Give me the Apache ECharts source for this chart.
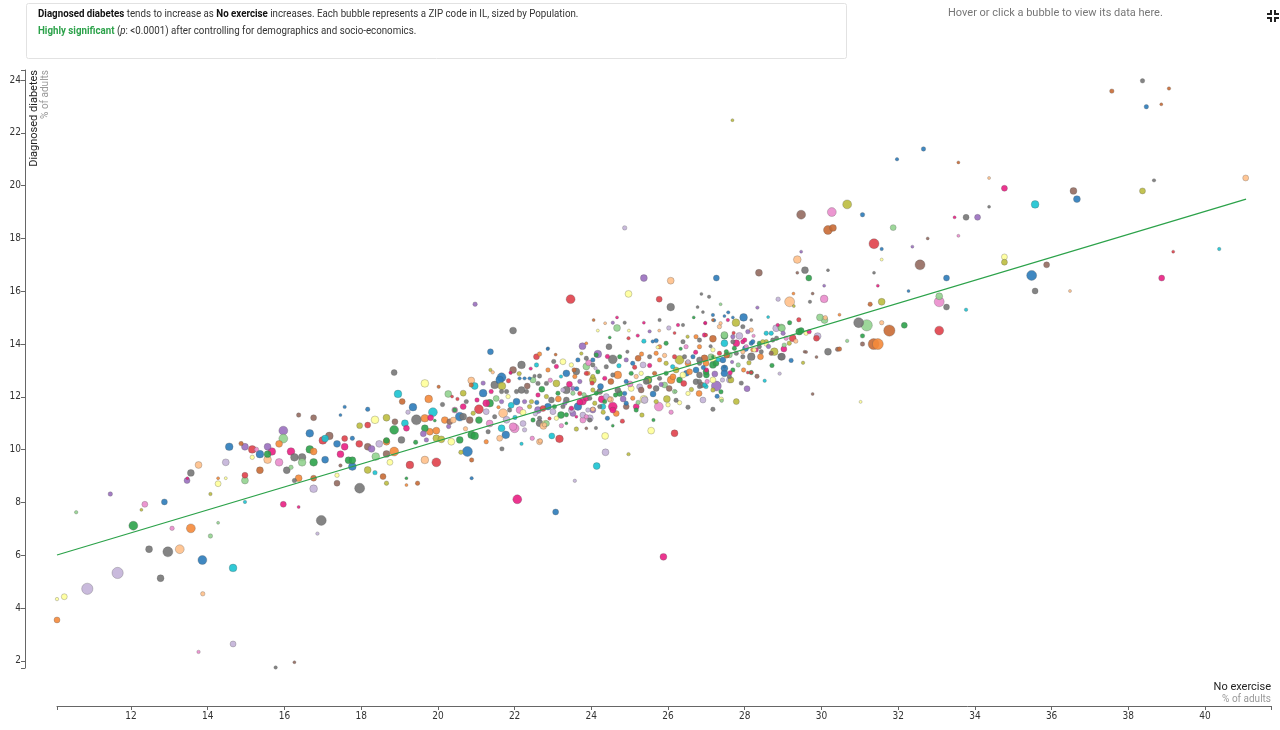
<!DOCTYPE html>
<html>
<head>
<meta charset="utf-8">
<script src="https://cdn.jsdelivr.net/npm/echarts@6/dist/echarts.min.js"></script>
<style>
  html, body { margin: 0; padding: 0; background: #fff; }
  #chart { width: 1280px; height: 730px; }
</style>
</head>
<body>
<div id="chart"></div>
<script>
// ── Data ─────────────────────────────────────────────────────
// Each ZIP: [no exercise %, diagnosed diabetes %, population, colour group]

const xLabel = 'No exercise';
const yLabel = 'Diagnosed diabetes';
const unitLabel = '% of adults';

const trendX = [10.07, 41.07];
const trendY = [6.01, 19.49];

const zipsLow = [
  [10.07,3.55,9000,1],[10.07,4.34,3000,14],[10.26,4.43,9000,14],[10.86,4.73,32000,13],
  [10.57,7.63,3000,11],[11.46,8.32,5000,4],[11.65,5.33,32000,13],[12.06,7.12,20000,2],
  [12.27,7.72,2000,8],[12.36,7.93,9000,12],[12.47,6.23,12000,7],[12.77,5.13,12000,7],
  [12.87,8.02,9000,0],[12.96,6.13,25000,7],[13.07,7.02,5000,12],[13.27,6.23,20000,10],
  [13.56,7.02,20000,1],[13.46,8.83,9000,4],[13.47,8.92,2000,6],[13.56,9.12,12000,7],
  [13.76,9.42,12000,10],[13.87,4.54,5000,10],[13.76,2.34,3000,12],[13.86,5.82,20000,0],
  [14.07,6.73,5000,11],[14.07,8.32,3000,8],[14.27,7.23,2000,11],[14.27,8.71,9000,14],
  [14.27,8.92,2000,1],[14.47,8.92,2000,14],[14.47,9.52,12000,13],[14.56,10.11,15000,0],
  [14.66,5.52,15000,9],[14.66,2.64,9000,13],[14.87,10.23,5000,15],[14.97,10.11,12000,4],
  [14.97,9.03,9000,3],[14.97,8.83,12000,11],[14.97,8.02,3000,9],[15.16,10.01,15000,3],
  [15.16,9.71,5000,14],[15.27,10.01,5000,12],[15.36,9.83,15000,0],[15.36,9.22,12000,15],
  [15.56,10.11,12000,4],[15.56,9.62,15000,10],[15.67,9.93,15000,6],[15.56,9.83,12000,2],
  [15.77,1.75,3000,7],[15.86,10.22,12000,1],[15.86,9.52,15000,12],[15.97,10.72,20000,4],
  [15.97,10.42,20000,11],[15.97,7.93,9000,6],[16.06,9.22,12000,7],[16.17,9.93,15000,6],
  [16.17,9.33,5000,11],[16.26,9.71,15000,7],[16.26,8.83,5000,7],[16.26,1.95,2000,5],
  [16.37,11.31,5000,5],[16.37,7.83,2000,6],[16.37,8.92,12000,1],[16.46,9.71,15000,7],
  [16.46,9.52,15000,11],[16.66,10.62,15000,0],[16.66,10.01,15000,2],[16.76,11.21,9000,5],
  [16.76,9.93,12000,1],[16.76,9.52,15000,2],[16.76,8.92,9000,15],[16.76,8.52,15000,13],
  [16.96,7.32,25000,7],[16.86,6.82,3000,13],[17.06,9.62,12000,0],[17.06,10.42,12000,9],
  [17.0,10.35,15000,3],[17.17,10.52,15000,5],[17.37,10.22,12000,0],[17.37,9.03,5000,14],
  [17.37,8.73,9000,5],[17.57,10.42,9000,3],[17.57,10.11,12000,6],[17.46,9.83,12000,6],
  [17.57,11.62,3000,0],[17.46,11.31,2000,0],[17.46,9.4,3000,5],[17.67,9.6,12000,2]
];

const zipsMidLeft = [
  [20.97,15.51,5000,4],[21.96,14.51,12000,7],[21.37,13.71,9000,0],[22.57,13.52,9000,3],
  [18.86,12.92,9000,7],[19.66,12.51,15000,14],[18.96,12.11,15000,9],[19.76,11.92,15000,1],
  [20.27,12.11,12000,11],[19.07,11.82,9000,15],[18.17,11.53,5000,0],[18.36,11.13,15000,14],
  [18.66,11.21,12000,8],[17.96,10.91,9000,8],[18.17,10.93,9000,3],[17.77,10.43,5000,0],
  [17.95,10.22,12000,3],[18.17,10.11,12000,5],[18.27,10.03,12000,4],[18.47,10.22,12000,13],
  [18.66,10.30,12000,1],[18.66,10.35,9000,2],[18.86,10.75,20000,2],[18.88,11.06,9000,5],
  [19.14,11.0,12000,9],[19.18,10.81,9000,6],[19.44,11.13,25000,7],[19.66,11.19,15000,1],
  [19.87,11.42,20000,9],[19.35,11.61,15000,0],[19.05,10.37,12000,7],[18.86,9.93,20000,1],
  [18.66,9.84,12000,5],[18.38,9.74,15000,11],[18.75,9.52,9000,14],[19.27,9.42,15000,3],
  [19.96,9.52,20000,3],[19.66,9.61,15000,10],[18.17,9.23,12000,8],[18.36,9.13,5000,9],
  [18.57,8.98,9000,15],[18.66,8.73,5000,8],[17.96,8.54,25000,7],[17.77,9.36,15000,0],
  [17.77,9.6,12000,2],[19.18,8.92,2000,2],[19.18,8.66,2000,1],[19.47,8.73,5000,15],
  [20.35,10.30,12000,14],[20.77,9.93,25000,0],[20.88,9.61,5000,15],[20.88,8.92,3000,0],
  [22.07,8.12,20000,6],[20.6,9.9,5000,8],[20.66,11.25,12000,7],[20.44,11.50,9000,12],
  [20.31,11.06,9000,5],[20.66,11.63,9000,6],[20.87,12.45,5000,15],[20.66,12.14,9000,8],
  [21.18,12.14,15000,0],[21.35,11.76,15000,2],[21.48,12.45,15000,7],[21.61,12.64,15000,0],
  [21.67,12.41,15000,8],[22.18,13.21,15000,7],[21.96,13.02,12000,5],[21.37,13.02,3000,8],
  [21.9,12.9,2000,6],[22.48,12.64,9000,11],[21.79,11.13,12000,13],[21.96,10.87,15000,12],
  [21.77,10.56,15000,0],[21.67,10.03,5000,7],[22.18,10.22,3000,9],[22.46,10.43,5000,12],
  [22.67,10.33,5000,10],[22.8,11.0,9000,14],[20.88,10.56,15000,2],[19.96,10.43,12000,8],
  [19.79,10.68,12000,1],[19.62,10.6,9000,4],
  [22.65,13.62,5000,1],[22.87,13.83,3000,0],[23.07,13.6,2000,15],[22.57,13.21,5000,9],
  [23.48,13.21,5000,14],[23.87,13.15,12000,11],[24.04,13.4,5000,0],[24.13,13.59,5000,2],
  [20.87,12.62,12000,10],[20.96,12.41,12000,9],[21.66,12.74,20000,0],[21.89,12.92,2000,6],
  [22.13,12.70,3000,0],[22.26,12.70,3000,0],[22.39,12.70,3000,0],[22.52,12.79,3000,7],
  [22.65,12.79,5000,7],[22.87,13.02,5000,1],[23.09,13.15,5000,6],[23.35,12.89,12000,0],
  [23.61,12.96,12000,7],[23.91,12.89,5000,1],[24.04,12.64,12000,8],[23.09,12.51,12000,8],
  [22.83,12.51,5000,7],[22.61,12.51,5000,7],[20.37,12.01,2000,3],[20.74,11.82,5000,7],
  [21.26,11.76,12000,6],[21.39,12.2,5000,6],[21.66,12.2,5000,7],[21.79,12.2,5000,7],
  [22.05,12.2,5000,7],[22.18,12.26,12000,7],[22.31,12.2,5000,7],[21.66,11.82,5000,4],
  [21.83,12.01,5000,14],[22.05,11.82,12000,0],[22.26,11.82,5000,4],[22.44,11.82,5000,8],
  [22.61,12.07,5000,6],[22.83,12.01,5000,8],[22.96,11.88,9000,7],[23.13,12.14,5000,2],
  [23.35,12.26,15000,7],[23.52,12.14,5000,11],[23.78,11.82,12000,6],[23.96,11.95,5000,7],
  [24.13,12.14,5000,2],[24.09,11.76,5000,8],[23.48,11.57,5000,6],[23.26,11.63,5000,7],
  [23.04,11.63,5000,2],[22.87,11.63,12000,0],[22.61,11.5,12000,4],[22.39,11.63,5000,8],
  [22.13,11.5,12000,12],[21.87,11.5,5000,7],[21.7,11.38,20000,10],[21.48,11.25,5000,7],
  [21.26,11.44,9000,13],[21.07,11.53,20000,3],[20.92,11.38,5000,8],[20.44,11.5,5000,2],
  [19.92,11.1,2000,2],[20.18,11.12,12000,1],[20.4,11.12,9000,10],[20.57,11.25,20000,0],
  [20.83,11.12,12000,5],[21.07,11.12,12000,2],[21.35,10.99,12000,12],[21.66,10.81,12000,9],
  [22.0,10.81,20000,12],[22.22,10.99,9000,13],[22.48,11.12,5000,2],[22.65,11.19,5000,7],
  [22.83,10.99,9000,11],[23.09,11.19,5000,14],[23.35,11.32,5000,2],[23.61,11.25,2000,6],
  [23.78,11.12,9000,12],[23.96,11.19,12000,13],[23.87,10.81,2000,5],[19.66,10.81,12000,2],
  [19.96,10.72,12000,1],[19.7,10.37,5000,4],[20.09,10.39,12000,8],[20.57,10.37,12000,2],
  [20.96,10.52,15000,2],[21.26,10.3,5000,1],[21.61,10.43,9000,10],[22.26,10.75,5000,13],
  [22.65,10.3,9000,10],[22.78,10.94,5000,10]
];

const zipsMid = [
  [23.46,15.70,20000,3],[25.37,16.50,12000,4],[26.07,16.40,12000,10],[24.97,15.90,12000,14],
  [25.77,15.70,9000,3],[26.07,15.40,15000,7],[27.26,16.50,9000,0],[28.37,16.70,12000,5],
  [26.87,15.90,2000,7],[27.07,15.79,3000,7],[26.77,15.40,2000,7],[27.37,15.51,2000,11],
  [28.87,15.70,5000,13],[27.57,15.20,3000,0],[27.17,15.10,3000,0],[27.97,15.01,15000,0],
  [27.77,14.81,15000,8],[24.67,14.61,12000,11],[24.06,14.91,2000,15],[24.87,14.81,3000,7],
  [25.37,14.81,2000,6],[24.17,14.51,2000,14],[24.98,14.51,2000,14],[25.77,14.51,2000,10],
  [26.17,14.42,2000,3],[26.97,14.81,2000,6],[27.2,14.9,3000,0],[23.77,13.92,12000,4],
  [24.17,13.62,15000,4],[24.56,13.42,20000,7],[22.86,13.81,2000,0],[23.87,14.03,2000,1],
  [25.37,14.11,5000,9],[25.6,14.1,3000,0],[27.47,14.31,12000,2],[27.17,14.20,12000,15],
  [28.77,13.71,15000,8],[28.17,13.52,15000,7],[27.17,13.52,2000,2],[27.47,13.08,12000,0],
  [27.47,12.89,12000,0],[27.26,12.41,25000,4],[28.06,12.31,9000,4],[28.17,12.92,3000,3],
  [27.67,13.32,3000,4],[27.6,12.64,9000,13],[29.77,12.11,2000,5],[27.78,11.82,9000,8],
  [27.4,11.85,3000,11],[27.17,11.53,5000,7],[25.76,11.63,20000,12],[25.97,11.92,12000,8],
  [26.0,11.7,5000,14],[25.37,11.91,15000,14],[26.2,12.2,2000,11],[25.56,10.72,12000,14],
  [26.17,10.62,12000,3],[24.36,10.52,12000,14],[23.17,10.41,15000,3],[22.97,10.52,9000,9],
  [24.37,9.90,12000,13],[24.97,9.83,3000,8],[24.56,10.91,2000,2],[24.56,11.63,20000,6],
  [24.27,11.91,12000,6],[24.5,11.9,9000,10],[23.65,11.63,15000,0],[23.7,11.8,9000,6],
  [23.21,11.31,12000,2],[23.87,11.25,5000,12],[22.65,11.0,12000,7],[22.75,10.9,12000,10],
  [22.74,11.56,9000,3],[23.0,11.44,9000,13],[23.35,11.88,9000,7],[23.52,11.37,9000,4],
  [23.78,11.31,9000,13],[24.04,11.5,9000,4],[24.3,11.63,9000,9],[24.65,11.37,9000,1],
  [24.91,11.63,9000,5],[25.17,11.63,9000,6],[24.74,12.13,9000,2],[25.04,12.32,9000,14],
  [25.26,12.38,9000,13],[25.48,12.64,9000,8],[25.69,12.32,9000,7],[25.91,12.45,9000,11],
  [26.13,12.76,9000,1],[26.3,12.64,9000,2],[26.48,12.89,9000,0],[26.73,12.57,9000,7],
  [26.87,12.45,9000,5],[27.0,12.83,9000,2],[23.96,11.12,5000,7],[23.35,11.0,2000,2],
  [27.68,22.48,2000,8],[24.87,18.40,5000,13],[25.88,5.94,12000,6],[23.07,7.64,9000,0],
  [23.57,8.82,3000,13],[24.14,9.38,12000,9],[31.02,11.81,2000,14]
];

const zipsDense = [
  [24.67,15.01,2000,6],[24.36,14.79,2000,10],[24.56,14.81,3000,4],[25.78,14.91,3000,7],
  [26.26,14.72,3000,6],[26.39,14.72,3000,7],[26.67,15.01,2000,2],[26.97,14.79,3000,6],
  [27.37,14.79,3000,10],[27.56,14.91,3000,6],[28.17,14.53,5000,10],[28.56,14.41,5000,9],
  [28.86,14.72,3000,6],[24.48,14.25,2000,2],[24.46,13.90,9000,7],[24.97,14.22,3000,3],
  [25.69,14.13,5000,0],[25.78,13.90,5000,1],[25.95,14.03,5000,2],[26.39,14.09,5000,7],
  [26.47,13.90,5000,12],[26.73,14.28,5000,1],[26.82,13.90,5000,1],[26.99,14.34,3000,3],
  [27.69,14.28,5000,4],[27.95,14.09,5000,6],[28.17,14.03,5000,0],[28.38,14.03,5000,2],
  [28.56,14.09,5000,8],[28.73,14.15,5000,7],[28.43,13.71,5000,7],[28.21,13.78,5000,1],
  [28.04,13.90,5000,12],[27.73,13.84,5000,2],[27.52,13.71,5000,2],[23.26,13.33,9000,14],
  [23.65,13.40,5000,0],[23.87,13.46,5000,7],[24.04,13.21,5000,7],[24.39,13.14,5000,7],
  [24.74,13.52,5000,2],[24.91,13.40,5000,4],[25.08,13.27,5000,0],[25.22,13.46,9000,15],
  [25.35,13.21,9000,13],[25.52,13.52,5000,7],[25.69,13.65,5000,1],[25.78,13.40,5000,1],
  [25.95,13.27,5000,8],[26.17,13.52,5000,3],[26.30,13.40,20000,8],[26.43,13.52,5000,7],
  [26.52,13.27,9000,1],[26.65,13.52,5000,0],[26.82,13.40,9000,7],[26.99,13.27,9000,1],
  [27.12,13.52,9000,11],[27.25,13.27,9000,2],[27.43,13.40,9000,0],[27.60,13.59,9000,11],
  [27.78,13.65,5000,7],[27.95,13.71,5000,10],[28.30,13.78,5000,6],[23.57,12.77,5000,1],
  [23.70,12.58,5000,4],[23.87,12.89,5000,3],[24.04,12.77,5000,8],[24.17,12.95,5000,2],
  [24.35,12.70,5000,6],[24.56,12.83,5000,7],[24.69,12.83,15000,1],[24.91,12.58,5000,0],
  [25.04,12.89,5000,2],[25.17,12.77,5000,10],[25.30,12.89,5000,14],[25.48,12.64,15000,2],
  [25.65,12.89,5000,15],[25.78,12.70,5000,7],[25.95,12.89,5000,2],[26.08,12.64,15000,1],
  [26.21,13.02,9000,8],[26.39,12.83,9000,14],[26.56,12.95,9000,1],[26.73,13.02,9000,0],
  [26.82,12.83,9000,7],[26.99,12.95,9000,2],[27.69,13.02,5000,2],[23.26,12.26,5000,13],
  [23.52,12.32,5000,4],[23.70,12.13,5000,3],[23.87,11.95,9000,6],[24.04,12.26,5000,8],
  [24.22,12.20,9000,7],[24.39,12.01,9000,13],[24.48,11.91,5000,10],[24.69,12.26,9000,7],
  [24.87,12.13,5000,0],[25.08,11.95,5000,1],[25.30,12.26,9000,5],[25.39,11.88,12000,13],
  [25.52,12.39,5000,3],[25.69,11.82,5000,8],[26.17,12.20,5000,11],[26.30,11.78,5000,14],
  [26.52,12.13,5000,14],[26.82,12.39,5000,7],[26.99,12.39,5000,9],[27.17,12.26,5000,8],
  [27.39,11.91,5000,14],[23.31,11.76,5000,4],[23.48,11.50,9000,13],[23.91,11.50,5000,13],
  [24.04,11.53,5000,10],[24.22,11.63,5000,7],[24.35,11.82,5000,2],[24.56,11.50,9000,6],
  [24.91,11.76,5000,0],[25.17,11.50,5000,2],
  [29.28,15.44,2000,8],[27.17,14.91,2000,15],[27.47,15.06,2000,0],[27.69,15.01,2000,0],
  [28.17,14.91,2000,7],[27.34,14.66,5000,10],[27.95,14.66,5000,7],[28.08,14.47,5000,4],
  [27.86,14.31,12000,13],[27.47,14.34,12000,11],[26.95,14.34,5000,6],[26.82,14.15,5000,7],
  [27.47,14.03,12000,9],[27.69,14.09,5000,7],[27.78,14.03,12000,6],[28.0,14.15,5000,6],
  [28.21,14.09,5000,0],[28.38,13.9,5000,7],[28.47,14.09,5000,8],[28.56,14.0,5000,14],
  [28.69,14.41,5000,9],[28.82,14.6,12000,13],[28.95,14.63,12000,11],[29.17,14.81,5000,2],
  [29.0,14.41,5000,4],[29.08,14.22,5000,12],[29.25,14.22,12000,3],[29.42,14.47,12000,2],
  [29.6,14.41,5000,14],[29.68,14.47,5000,6],[30.08,14.91,12000,11],[29.56,13.71,2000,5],
  [28.95,13.52,12000,7],[28.69,13.65,5000,5],[28.25,13.78,5000,14],[27.95,13.52,5000,7],
  [27.34,13.65,5000,3],[27.17,13.78,5000,14],[27.17,13.46,12000,14],[26.95,13.46,12000,15],
  [27.17,13.21,12000,2],[27.0,13.02,5000,6],[26.82,13.27,5000,7],[27.47,13.14,2000,0],
  [27.6,12.77,5000,7],[27.42,12.64,5000,13],[27.64,12.64,9000,8],[27.17,12.64,9000,14],
  [26.95,12.45,5000,9],[26.82,12.58,5000,7],[27.97,13.02,5000,1],[28.08,12.92,2000,3],
  [28.17,12.92,5000,2],[29.03,13.96,5000,11],[29.16,14.03,5000,8],[30.42,13.8,5000,5]
];

// estimated fill of the densest band, read at lower precision
const zipsBand = [
  [21.18,12.52,5000,4],[21.43,12.93,3000,10],[21.52,11.94,9000,11],[21.84,12.61,5000,3],
  [21.91,11.68,9000,9],[22.12,12.88,5000,8],[22.33,12.41,9000,5],[22.42,13.07,3000,6],
  [22.54,11.36,5000,13],[22.71,12.29,9000,2],[22.93,12.63,5000,12],[23.02,13.34,5000,7],
  [23.14,11.92,9000,1],[23.21,12.77,3000,9],[23.43,12.48,9000,6],[23.55,13.02,5000,15],
  [23.62,12.31,5000,0],[23.74,13.64,3000,8],[23.81,12.08,5000,11],[23.93,13.29,9000,12],
  [24.02,12.52,5000,3],[24.11,13.08,3000,13],[24.24,12.39,9000,0],[24.31,11.42,5000,8],
  [24.42,13.53,5000,6],[24.51,12.58,9000,15],[24.63,12.07,5000,2],[24.72,13.18,5000,9],
  [24.83,11.92,9000,4],[24.94,13.71,3000,7],[25.01,12.49,9000,12],[25.13,13.12,5000,3],
  [25.22,11.79,5000,11],[25.31,13.62,5000,1],[25.43,12.58,9000,7],[25.52,13.19,5000,6],
  [25.61,12.11,9000,0],[25.73,13.88,3000,14],[25.82,12.47,5000,4],[25.91,13.57,5000,10],
  [26.03,12.32,9000,5],[26.12,13.14,5000,9],[26.21,11.87,5000,7],[26.33,13.82,3000,2],
  [26.41,12.51,9000,3],[26.52,13.33,5000,13],[26.61,12.28,5000,8],[26.72,13.69,5000,6],
  [26.81,12.13,9000,1],[26.92,13.11,5000,0],[27.02,12.58,5000,12],[27.11,13.92,3000,7],
  [27.22,12.87,9000,4],[27.31,13.41,5000,9],[27.38,12.19,5000,2],[27.53,13.58,9000,15],
  [27.62,12.91,5000,6],[27.71,14.42,3000,3],[27.83,13.21,5000,11],[27.91,12.52,5000,7],
  [28.02,13.83,9000,0],[28.11,13.29,5000,8],[28.23,14.31,3000,12],[28.32,12.78,5000,5],
  [28.41,13.52,9000,1],[28.52,12.61,3000,9],[28.62,13.91,5000,4],[28.71,13.19,5000,2],
  [28.83,14.22,5000,7],[28.91,12.88,3000,13],[29.02,13.81,9000,6],[29.21,13.38,5000,0],
  [29.33,14.11,5000,10],[29.52,13.29,3000,8],
  [21.02,11.88,5000,6],[21.31,10.68,5000,7],[21.58,11.61,3000,1],[22.01,11.22,5000,9],
  [22.22,11.41,9000,14],[22.58,11.79,5000,0],[22.91,11.18,3000,3],[23.22,10.91,5000,12],
  [23.61,10.78,5000,8],[24.12,10.82,3000,7],[24.42,11.19,5000,0],[24.81,11.08,5000,3],
  [25.32,11.31,5000,8],[25.62,11.12,3000,2],[26.08,11.42,5000,12],[26.52,11.61,5000,7],
  [26.91,11.88,9000,13],[27.28,12.02,5000,0],
  [20.12,11.71,5000,7],[20.28,10.88,5000,4],[20.51,11.92,3000,3],[20.72,10.79,5000,10],
  [19.81,11.21,9000,6],[19.42,10.28,5000,2],[19.22,11.42,5000,13],[20.02,12.38,3000,15],
  [25.21,14.32,3000,6],[25.52,14.48,3000,4],[26.02,14.61,5000,13],[26.51,14.28,3000,8],
  [26.91,15.21,2000,7],[28.61,15.02,2000,9],[28.33,15.38,3000,4],[29.41,14.92,5000,3]
];

const zipsHigh = [
  [32.66,21.39,5000,0],[31.97,21.0,3000,0],[33.57,20.88,2000,15],[34.37,20.29,2000,10],
  [34.77,19.90,9000,6],[36.57,19.80,12000,5],[36.66,19.49,12000,0],[35.57,19.29,15000,9],
  [34.37,19.20,2000,7],[30.67,19.29,20000,8],[30.27,19.0,20000,12],[29.47,18.90,20000,5],
  [31.07,18.90,5000,0],[33.47,18.80,2000,6],[33.77,18.80,9000,7],[34.07,18.80,9000,4],
  [30.17,18.32,20000,15],[30.3,18.4,12000,15],[31.87,18.41,9000,11],[32.77,18.0,2000,5],
  [33.57,18.10,2000,12],[31.37,17.80,25000,3],[31.57,17.60,3000,0],[32.37,17.69,2000,4],
  [31.57,17.20,2000,14],[34.77,17.30,9000,14],[34.77,17.10,9000,8],[32.57,17.0,25000,5],
  [35.87,17.0,9000,5],[29.37,17.20,15000,10],[29.47,17.50,2000,4],[29.57,16.80,12000,7],
  [29.37,16.70,2000,5],[30.17,16.80,2000,7],[29.67,16.50,9000,2],[35.48,16.60,25000,0],
  [33.26,16.50,9000,0],[35.57,16.01,9000,7],[36.48,16.01,2000,10],[31.37,16.70,2000,7],
  [30.07,16.21,2000,4],[31.47,16.21,2000,6],[32.27,16.01,2000,0],[30.07,15.71,15000,12],
  [29.17,15.60,25000,10],[29.27,15.91,2000,1],[29.77,15.91,2000,5],[29.7,15.6,3000,7],
  [31.27,15.51,5000,15],[31.57,15.60,12000,8],[33.07,15.81,12000,11],[33.07,15.60,25000,12],
  [33.26,15.40,9000,7],[33.77,15.30,3000,9],[30.47,15.11,2000,1],[29.96,15.01,12000,11],
  [30.1,15.0,5000,10],[30.97,14.81,25000,7],[31.18,14.71,32000,11],[31.57,14.81,5000,10],
  [32.16,14.71,9000,2],[31.77,14.51,32000,15],[33.07,14.51,20000,3],[31.07,14.31,5000,2],
  [31.36,14.0,30000,15],[31.47,14.0,30000,1],[31.07,14.0,5000,5],[30.67,14.12,3000,11],
  [30.47,13.81,5000,15],[30.17,13.71,12000,7],[29.87,13.51,2000,5],[29.6,13.7,2000,5],
  [29.87,14.22,9000,3],[29.47,14.51,9000,2],[29.9,14.3,12000,13],[28.97,14.60,12000,11],
  [28.97,13.52,12000,7],
  [38.37,23.97,5000,7],[37.57,23.58,5000,15],[39.06,23.68,3000,15],[38.86,23.08,2000,15],
  [38.47,22.99,5000,0],[41.06,20.29,9000,10],[38.67,20.20,3000,7],[38.37,19.80,9000,8],
  [40.37,17.60,3000,9],[39.17,17.50,2000,3],[38.87,16.50,9000,6]
];

// ── Style ────────────────────────────────────────────────────

const palette = [
  '#2b7bba', '#f58a3a', '#2ca24a', '#e0404a', '#9a6fbf', '#946a5f',
  '#ea1f83', '#777777', '#bdbd3f', '#1ac3d2', '#ffc08a', '#92d38f',
  '#ea8ccc', '#c3b3d8', '#ffff99', '#c96a34',
];

const narrow = "'Liberation Sans Narrow', 'DejaVu Sans Condensed', Roboto, sans-serif";
const base   = "Roboto, 'Noto Sans', sans-serif";

// big bubbles first so small ones stay visible
const zips = [...zipsLow, ...zipsMidLeft, ...zipsMid, ...zipsDense, ...zipsBand, ...zipsHigh]
  .sort((a, b) => b[2] - a[2]);

function bubbleSize(val) {
  return Math.max(3, 0.063 * Math.sqrt(val[2]));
}

function intLabel(v) {
  return Math.abs(v - Math.round(v)) < 1e-6 ? String(Math.round(v)) : '';
}

// ── Chart ────────────────────────────────────────────────────

const chart = echarts.init(document.getElementById('chart'), null, { renderer: 'canvas' });

const axisCommon = {
  type: 'value',
  minInterval: 2,
  maxInterval: 2,
  splitLine: { show: false },
  axisLine:  { show: true, lineStyle: { color: '#666', width: 1 } },
  axisTick:  { show: true, length: 4, lineStyle: { color: '#666' } },
  axisLabel: { formatter: intLabel, fontSize: 10, color: '#333', fontFamily: narrow },
};

const boxText = (text, y, rich) => ({
  type: 'text', x: 38, y, scaleX: 0.885,
  style: {
    text, fill: '#333', verticalAlign: 'middle',
    fontSize: 11, fontFamily: base,
    rich,
  },
});

chart.setOption({
  animation: false,
  backgroundColor: '#fff',
  grid: { left: 57, right: 9, top: 70, bottom: 62 },
  xAxis: { ...axisCommon, min: 10.07, max: 41.72, offset: 38,
           axisLabel: { ...axisCommon.axisLabel, margin: 5 } },
  yAxis: { ...axisCommon, min: 1.73, max: 24.38, offset: 32,
           axisLabel: { ...axisCommon.axisLabel, margin: 4 } },
  series: [
    {
      type: 'scatter',
      data: zips,
      symbolSize: bubbleSize,
      itemStyle: {
        color: p => palette[p.data[3]],
        opacity: 0.9,
        borderColor: 'rgba(90,90,90,0.55)',
        borderWidth: 0.6,
      },
      z: 2,
    },
    {
      type: 'line',
      data: trendX.map((x, i) => [x, trendY[i]]),
      symbol: 'none',
      lineStyle: { color: '#2ca24a', width: 1.3 },
      silent: true,
      z: 3,
    },
  ],
  graphic: [
    // summary box
    { type: 'rect', left: 26, top: 3,
      shape: { width: 820, height: 55, r: 2 },
      style: { fill: '#fff', stroke: '#e2e2e2', lineWidth: 1 } },
    boxText('{b|Diagnosed diabetes} tends to increase as {b|No exercise} increases. Each bubble represents a ZIP code in IL, sized by Population.',
      14, { b: { fontWeight: 'bold', fontSize: 11, fontFamily: base, fill: '#111' } }),
    boxText('{g|Highly significant} ({i|p}: <0.0001) after controlling for demographics and socio-economics.',
      31, {
        g: { fontWeight: 'bold', fontSize: 11, fontFamily: base, fill: '#2ca24a' },
        i: { fontStyle: 'italic', fontSize: 11, fontFamily: base, fill: '#333' },
      }),
    // info hint
    { type: 'text', x: 948, y: 13,
      style: { text: 'Hover or click a bubble to view its data here.',
               fontSize: 11, fontFamily: base, fill: '#777', verticalAlign: 'middle' } },
    // exit-fullscreen icon
    { type: 'group', children: [
      { type: 'polyline', shape: { points: [[1267, 14], [1271, 14], [1271, 10]] },
        style: { stroke: '#222', lineWidth: 2, fill: null } },
      { type: 'polyline', shape: { points: [[1275, 10], [1275, 14], [1279, 14]] },
        style: { stroke: '#222', lineWidth: 2, fill: null } },
      { type: 'polyline', shape: { points: [[1267, 18], [1271, 18], [1271, 22]] },
        style: { stroke: '#222', lineWidth: 2, fill: null } },
      { type: 'polyline', shape: { points: [[1275, 22], [1275, 18], [1279, 18]] },
        style: { stroke: '#222', lineWidth: 2, fill: null } },
    ] },
    // axis titles
    { type: 'text', x: 34, y: 70, rotation: Math.PI / 2,
      style: { text: yLabel, fontSize: 11, fontFamily: base, fill: '#222',
               align: 'right', verticalAlign: 'middle' } },
    { type: 'text', x: 45, y: 70, rotation: Math.PI / 2,
      style: { text: unitLabel, fontSize: 10, fontFamily: base, fill: '#999',
               align: 'right', verticalAlign: 'middle' } },
    { type: 'text', x: 1271, y: 687,
      style: { text: xLabel, fontSize: 11, fontFamily: base, fill: '#222',
               align: 'right', verticalAlign: 'middle' } },
    { type: 'text', x: 1271, y: 699,
      style: { text: unitLabel, fontSize: 10, fontFamily: base, fill: '#999',
               align: 'right', verticalAlign: 'middle' } },
  ],
});
</script>
</body>
</html>
